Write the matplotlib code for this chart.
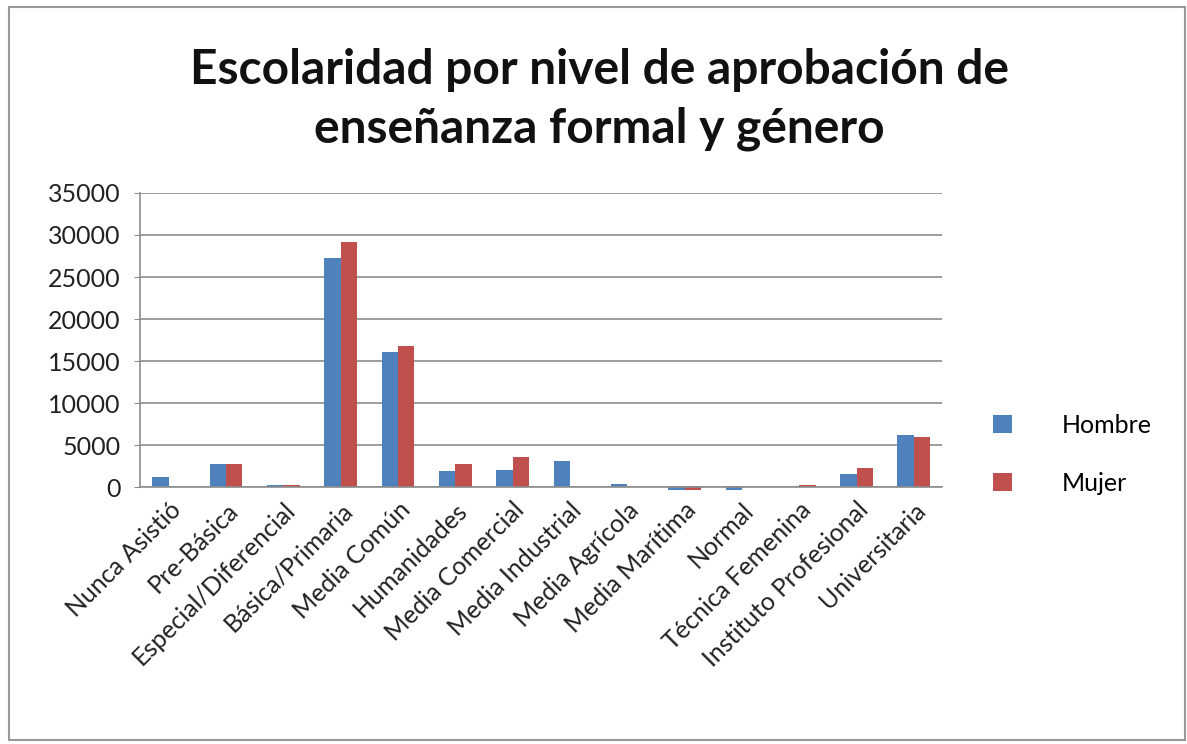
import matplotlib.pyplot as plt
import numpy as np
from matplotlib.patches import Rectangle

plt.rcParams['font.family'] = ['Lato', 'DejaVu Sans']

# data
categorias = ['Nunca Asistió', 'Pre-Básica', 'Especial/Diferencial', 'Básica/Primaria',
              'Media Común', 'Humanidades', 'Media Comercial', 'Media Industrial',
              'Media Agrícola', 'Media Marítima', 'Normal', 'Técnica Femenina',
              'Instituto Profesional', 'Universitaria']
hombre = [1200, 2750, 200, 27250, 16050, 1900, 2050, 3050, 350, -300, -300, 0, 1550, 6200]
mujer = [0, 2750, 200, 29150, 16800, 2750, 3600, 0, 0, -300, 0, 200, 2250, 6000]
yticks = [0, 5000, 10000, 15000, 20000, 25000, 30000, 35000]

azul = '#4F81BD'
rojo = '#C0504D'

fig = plt.figure(figsize=(11.87, 7.44), dpi=100)
ax = fig.add_axes([0.118, 0.3454, 0.676, 0.3952])

x = np.arange(len(categorias))
w = 0.285
ax.bar(x - w / 2, hombre, w, color=azul, label='Hombre', clip_on=False)
ax.bar(x + w / 2, mujer, w, color=rojo, label='Mujer', clip_on=False)

ax.set_xlim(-0.5, len(categorias) - 0.5)
ax.set_ylim(0, 35000)
ax.set_yticks(yticks)
ax.set_yticklabels([str(v) for v in yticks], fontsize=18, color='#222222')
ax.yaxis.grid(True, color='#8c8c8c', linewidth=1.2)
ax.set_axisbelow(True)
ax.set_xticks(x)
ax.set_xticklabels(categorias, rotation=45, ha='right', rotation_mode='anchor',
                   fontsize=18, color='#222222')
ax.tick_params(axis='x', length=0, pad=8)
ax.tick_params(axis='y', length=4, color='#8c8c8c', pad=10)
for s in ['top', 'right']:
    ax.spines[s].set_visible(False)
for s in ['left', 'bottom']:
    ax.spines[s].set_color('#8c8c8c')
    ax.spines[s].set_linewidth(1.2)

ax.legend(loc='center left', bbox_to_anchor=(1.035, 0.112), frameon=False, fontsize=18,
          handlelength=0.75, handleheight=0.75, handletextpad=2.0, labelspacing=1.4)

fig.text(0.505, 0.866, 'Escolaridad por nivel de aprobación de\nenseñanza formal y género',
         ha='center', va='center', fontsize=34.5, fontweight='bold', linespacing=1.4,
         color='#111111')

fig.patches.append(Rectangle((0.008, 0.005), 0.99, 0.985, transform=fig.transFigure,
                             fill=False, edgecolor='#999999', linewidth=1.5))

fig.savefig('out.png', dpi=100)
